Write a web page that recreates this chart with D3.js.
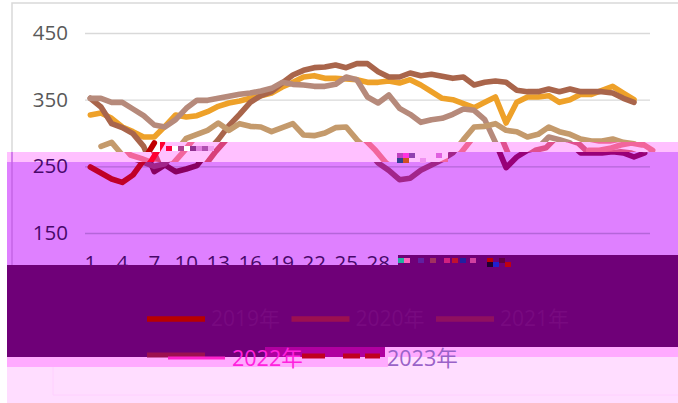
<!DOCTYPE html>
<html><head><meta charset="utf-8">
<script src="https://cdnjs.cloudflare.com/ajax/libs/d3/7.8.5/d3.min.js"></script>
<style>html,body{margin:0;padding:0;background:#fff}svg{display:block;font-family:"Open Sans","Noto Sans CJK SC",sans-serif}</style>
</head><body><svg id="c" width="678" height="403"></svg>
<script>
const weeks = d3.range(1, 54);
const tickWeeks = d3.range(1, 54, 3);
const yTicks = [150, 250, 350, 450];
const N = null;
const orange = [327,330,322,309,302,294,294,310,327,324,326,332,340,345,348,352,356,360,369,376,384,386,382,382,381,380,376,376,378,375,380,372,362,352,350,344,338,346,354,315,346,354,354,356,346,350,358,358,364,370,360,350];
const brown = [352,339,314,308,299,280,242,252,242,246,251,272,290,311,328,346,356,362,375,387,394,398,399,402,398,404,404,392,384,384,390,386,388,385,382,384,372,376,378,376,364,362,362,366,362,366,362,362,362,360,352,346];
const taupe = [352,352,346,346,336,326,312,309,320,337,349,349,352,355,358,360,363,367,376,373,372,370,370,373,384,380,354,345,357,337,328,316,320,322,328,336,334,320,286,248,264,274,278,294,290,285,270,270,270,272,270,264,270];
const tan = [N,280,286,267,262,256,250,254,272,292,298,304,315,304,314,310,309,302,308,314,297,296,300,308,309,290,274,255,244,230,232,244,252,260,270,290,309,310,314,304,302,294,298,309,302,298,291,288,288,291,286,284,274];
const red = [249,240,231,226,237,259,285];
const echo = [...Array(46).fill(N),274,274,277,282,285,282];
const seriesList = [
  {key:"orange", name:"2019年", values:orange},
  {key:"brown",  name:"2020年", values:brown},
  {key:"taupe",  name:"2021年", values:taupe},
  {key:"tan",    name:"2022年", values:tan},
  {key:"red",    name:"2023年", values:red}
];
const legendRow1 = seriesList.slice(0,3);
const legendRow2 = seriesList.slice(3);

const svg = d3.select("#c");
const x = d3.scaleBand().domain(weeks).range([85, 650]);
const y = d3.scaleLinear().domain([150, 450]).range([233, 33]);
const cx = w => x(w) + x.bandwidth()/2;
const line = d3.line().defined(d => d[1] !== null).x(d => cx(d[0])).y(d => y(d[1]));

const basePal = {orange:"#eea129",brown:"#a9654b",taupe:"#b68a7b",tan:"#c49a6c",red:"#c00000",grid:"#d9d9d9",text:"#595959"};
const pinkPal = {orange:"#eea129",brown:"#d8407a",taupe:"#e0508f",tan:"#f2659c",red:"#ff0030",grid:"#e6a6f2",text:"#6a4a80",echo:"#f2659c"};
const purplePal = {orange:"#eea129",brown:"#880060",taupe:"#980078",tan:"#a2258a",red:"#c00028",grid:"#b566d9",text:"#48086a"};

// labels: which y ticks a layer writes, and whether it writes the x ticks
function drawChart(g, pal, yLabels, withX){
  const ya = d3.axisLeft(y).tickValues(yTicks).tickSize(-565).tickPadding(17)
    .tickFormat(d => yLabels.includes(d) ? d : "");
  const yg = g.append("g").attr("transform","translate(85,0)").call(ya);
  yg.select(".domain").remove();
  yg.selectAll("line").attr("stroke",pal.grid).attr("stroke-width",1.4);
  yg.selectAll("text").filter(d => !yLabels.includes(d)).remove();
  yg.selectAll("text").attr("fill",pal.text).attr("font-size",20.5).attr("font-family","Open Sans");
  if (withX){
    const xa = d3.axisBottom(x).tickValues(tickWeeks).tickSize(0).tickPadding(22);
    const xg = g.append("g").attr("transform","translate(0,233)").call(xa);
    xg.select(".domain").remove();
    xg.selectAll("text").attr("fill",pal.text).attr("font-size",20.5).attr("font-family","Open Sans");
  }
  const lines = seriesList.map(s => ({k:s.key, v:s.values}));
  if (pal.echo) lines.push({k:"echo", v:echo});
  g.selectAll("path.s").data(lines).join("path").attr("class","s")
    .attr("fill","none").attr("stroke",d=>pal[d.k]).attr("stroke-width",5.6)
    .attr("stroke-linejoin","round").attr("stroke-linecap","round")
    .attr("d",d=>line(d.v.map((v,i)=>[weeks[i],v])));
}

const defs = svg.append("defs");
const poly = (id,pts)=>defs.append("clipPath").attr("id",id).append("polygon").attr("points",pts);
const pinkPts = "7,152 160,152 160,142 678,142 678,152 448,152 448,162 7,162";
const purplePts = "7,162 448,162 448,152 678,152 678,255 398,255 398,265 7,265";
const darkPts = "7,265 398,265 398,255 678,255 678,347 385,347 385,357 7,357";
const bandDPts = "7,357 385,357 385,347 678,347 678,357 388,357 388,367 7,367";
poly("cp",pinkPts); poly("cu",purplePts);

// base chart
svg.append("rect").attr("x",12).attr("y",3).attr("width",680).attr("height",420)
  .attr("fill","#fff").attr("stroke","#d9d9d9").attr("stroke-width",1.5);
drawChart(svg.append("g"), basePal, [350,450], false);

// corrupted bands seen in the reference
svg.append("polygon").attr("points",pinkPts).attr("fill","#ffc0ff");
drawChart(svg.append("g").attr("clip-path","url(#cp)").append("g").attr("transform","translate(8,0)"), pinkPal, [], false);
svg.append("polygon").attr("points",purplePts).attr("fill","#df80ff");
svg.append("line").attr("x1",12).attr("x2",12).attr("y1",152).attr("y2",265).attr("stroke","#c565e6").attr("stroke-width",1.5);
drawChart(svg.append("g").attr("clip-path","url(#cu)"), purplePal, [150], true);
// the 250 label straddles the pink and purple bands
svg.append("text").attr("x",68).attr("y",166).attr("dy","0.32em").attr("text-anchor","end")
  .attr("font-size",20.5).attr("font-family","Open Sans").attr("fill",purplePal.text).text(yTicks[1]);
svg.append("polygon").attr("points",darkPts).attr("fill","#6f0078");
svg.append("polygon").attr("points","7,367 388,367 388,357 678,357 678,403 7,403").attr("fill","#ffddff");
svg.append("polygon").attr("points",bandDPts).attr("fill","#ffaaff");
svg.append("polygon").attr("points","265,347 385,347 385,357 265,357").attr("fill","#b000a0");
svg.append("line").attr("x1",53).attr("x2",678).attr("y1",395).attr("y2",395).attr("stroke","#ffd0ff").attr("stroke-width",1);
svg.append("line").attr("x1",53).attr("x2",53).attr("y1",367).attr("y2",395).attr("stroke","#ffd0ff").attr("stroke-width",1);

// mosaic noise cells
const noiseCells = [
  [166,146,"#ff0040"],[172,146,"#fff"],[178,146,"#b04090"],[184,146,"#fff"],[190,146,"#903090"],[196,146,"#e080e0"],[202,146,"#b050b0"],[208,146,"#f0a0f0"],
  [397,153,"#c040c0"],[403,153,"#ff30e0"],[397,158,"#30408f"],[403,158,"#d05020"],[409,153,"#9040b0"],[420,158,"#f090f0"],[436,153,"#e060e0"],
  [398,258,"#20b0a0"],[404,258,"#ff60c0"],[418,258,"#6020a0"],[430,258,"#a03060"],[444,258,"#d02080"],[452,258,"#c01030"],[460,258,"#2020a0"],[470,258,"#d040a0"],[487,258,"#c00000"],[487,262,"#200030"],[493,262,"#2020d0"],[499,258,"#600040"],[505,262,"#c00010"]
];
svg.append("g").selectAll("rect").data(noiseCells).join("rect")
  .attr("x",d=>d[0]).attr("y",d=>d[1]).attr("width",6).attr("height",5).attr("fill",d=>d[2]);

// legend
const keyColours = ["#b80000","#9c1050","#8f1060"];
const leg = svg.append("g");
legendRow1.forEach((s,i)=>{
  const lx = 147 + i*144.5;
  leg.append("line").attr("x1",lx).attr("x2",lx+58).attr("y1",319).attr("y2",319).attr("stroke",keyColours[i]).attr("stroke-width",5.5);
  leg.append("text").attr("x",lx+64).attr("y",326).attr("font-size",21).attr("fill","#780a80").text(s.name);
});
leg.append("line").attr("x1",147).attr("x2",205).attr("y1",355).attr("y2",355).attr("stroke","#9c1050").attr("stroke-width",5);
leg.append("line").attr("x1",168).attr("x2",225).attr("y1",358).attr("y2",358).attr("stroke","#ff22cc").attr("stroke-width",3);
leg.append("text").attr("x",232).attr("y",366).attr("font-size",21.5).attr("fill","#ff22dd").text(legendRow2[0].name);
const redBits = [[302,325],[343,360],[365,380]];
leg.selectAll("line.r").data(redBits).join("line").attr("class","r").attr("x1",d=>d[0]).attr("x2",d=>d[1]).attr("y1",356).attr("y2",356).attr("stroke","#c00020").attr("stroke-width",5);
leg.append("text").attr("x",387).attr("y",366).attr("font-size",21.5).attr("fill","#9a62c8").text(legendRow2[1].name);
</script></body></html>
